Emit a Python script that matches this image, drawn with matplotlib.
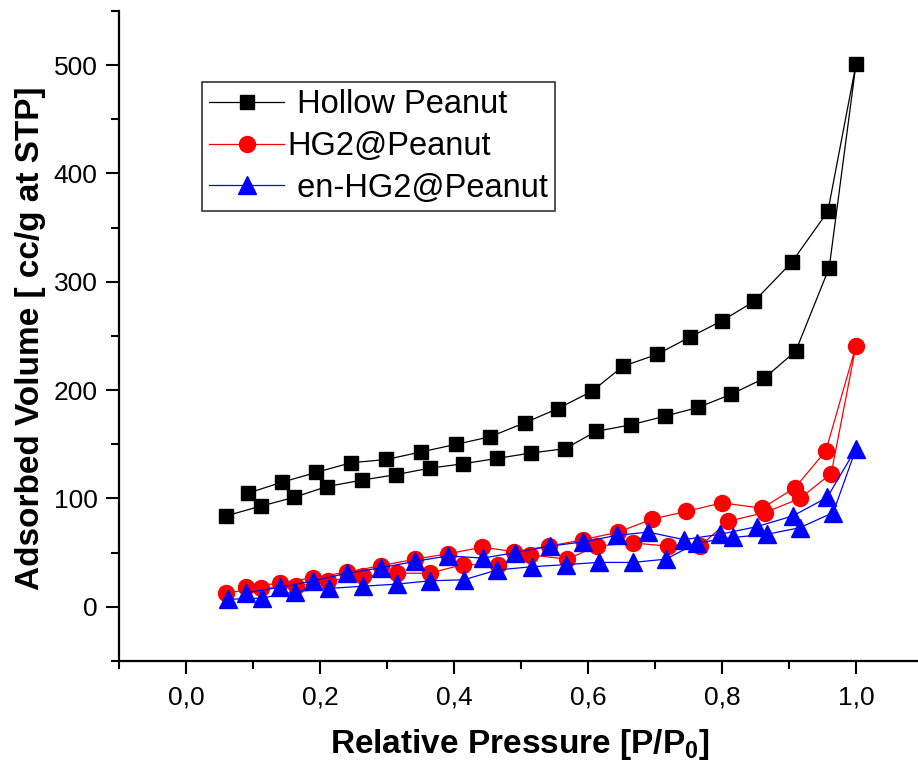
import numpy as np
import matplotlib
matplotlib.use("Agg")
import matplotlib.pyplot as plt
from matplotlib.ticker import MultipleLocator, FuncFormatter

plt.rcParams['font.family'] = ['Liberation Sans', 'DejaVu Sans']
plt.rcParams['mathtext.fontset'] = 'custom'
plt.rcParams['mathtext.rm'] = 'Liberation Sans'
plt.rcParams['mathtext.bf'] = 'Liberation Sans:bold'

# Hollow Peanut: adsorption branch then desorption branch
hollow_x = [0.060, 0.112, 0.161, 0.210, 0.263, 0.313, 0.364, 0.413, 0.464, 0.515,
            0.566, 0.612, 0.664, 0.715, 0.764, 0.813, 0.863, 0.910, 0.960, 1.000,
            0.958, 0.904, 0.848, 0.800, 0.752, 0.703, 0.652, 0.606, 0.555, 0.506,
            0.454, 0.403, 0.351, 0.299, 0.246, 0.194, 0.143, 0.093]
hollow_y = [84, 93, 101, 111, 117, 122, 128, 132, 137, 142,
            146, 162, 168, 176, 184, 196, 211, 236, 313, 501,
            365, 318, 282, 264, 249, 233, 222, 199, 183, 170,
            157, 150, 143, 136, 133, 124, 115, 105]

# HG2@Peanut
hg2_x = [0.060, 0.112, 0.164, 0.212, 0.264, 0.315, 0.364, 0.413, 0.466, 0.513,
         0.569, 0.613, 0.667, 0.719, 0.767, 0.809, 0.864, 0.916, 0.963, 1.000,
         0.955, 0.909, 0.860, 0.800, 0.746, 0.696, 0.645, 0.593, 0.542, 0.490,
         0.442, 0.391, 0.342, 0.291, 0.240, 0.190, 0.140, 0.090]
hg2_y = [13, 17, 19, 24, 28, 31, 31, 39, 39, 48,
         44, 56, 59, 56, 56, 79, 87, 100, 123, 241,
         144, 110, 91, 96, 88, 81, 69, 62, 56, 51,
         55, 49, 44, 38, 32, 27, 22, 18]

# en-HG2@Peanut
en_x = [0.063, 0.113, 0.163, 0.213, 0.264, 0.315, 0.364, 0.415, 0.464, 0.516,
        0.567, 0.616, 0.667, 0.716, 0.763, 0.816, 0.867, 0.916, 0.966, 1.000,
        0.957, 0.906, 0.852, 0.797, 0.743, 0.690, 0.643, 0.593, 0.543, 0.491,
        0.443, 0.391, 0.342, 0.291, 0.240, 0.190, 0.140, 0.090]
en_y = [7, 8, 14, 17, 19, 21, 24, 25, 34, 37,
        39, 41, 41, 44, 59, 64, 67, 73, 87, 146,
        101, 84, 74, 67, 62, 69, 66, 60, 56, 50,
        45, 47, 42, 36, 31, 24, 18, 13]

fig = plt.figure(figsize=(9.18, 7.72), dpi=100)
ax = fig.add_axes([119 / 918, 111 / 772, 804 / 918, 650 / 772])

ax.plot(hollow_x, hollow_y, color='black', lw=0.9, marker='s', ms=10.5,
        label=' Hollow Peanut')
ax.plot(hg2_x, hg2_y, color='red', lw=0.9, marker='o', ms=11.5,
        label='HG2@Peanut')
ax.plot(en_x, en_y, color='blue', lw=0.9, marker='^', ms=12.5,
        label=' en-HG2@Peanut')

ax.set_xlim(-0.1, 1.1)
ax.set_ylim(-50, 550)
ax.xaxis.set_major_locator(MultipleLocator(0.2))
ax.xaxis.set_minor_locator(MultipleLocator(0.1))
ax.yaxis.set_major_locator(MultipleLocator(100))
ax.yaxis.set_minor_locator(MultipleLocator(50))
ax.xaxis.set_major_formatter(FuncFormatter(lambda v, p: f"{v:.1f}".replace('.', ',')))
ax.set_xticks([0.0, 0.2, 0.4, 0.6, 0.8, 1.0])
ax.set_yticks([0, 100, 200, 300, 400, 500])

for s in ['top', 'right']:
    ax.spines[s].set_visible(False)
for s in ['left', 'bottom']:
    ax.spines[s].set_linewidth(1.6)

ax.tick_params(which='major', direction='out', length=9.5, width=1.5,
               labelsize=19, pad=6)
ax.tick_params(which='minor', direction='out', length=5.5, width=1.5)
ax.tick_params(axis='x', which='major', pad=8)

ax.set_xlabel('Relative Pressure [P/P$_{\\mathbf{0}}$]', fontsize=24, fontweight='bold')
ax.set_ylabel('Adsorbed Volume [ cc/g at STP]', fontsize=24, fontweight='bold')
ax.xaxis.label.set_verticalalignment('center')
ax.yaxis.label.set_verticalalignment('center')
ax.xaxis.set_label_coords((520 - 119) / 804, (661 - 745) / 650)
ax.yaxis.set_label_coords((30 - 119) / 804, (661 - 338) / 650)

leg = ax.legend(loc='upper left', bbox_to_anchor=(202 / 918, 1 - 82 / 772),
                bbox_transform=fig.transFigure, borderaxespad=0,
                fontsize=23.5, fancybox=False, handlelength=2.3,
                handletextpad=0.1, labelspacing=0.33, borderpad=0.22,
                framealpha=1)
leg.get_frame().set_edgecolor('#333333')
leg.get_frame().set_linewidth(1.2)

fig.savefig('out.png', dpi=100)
